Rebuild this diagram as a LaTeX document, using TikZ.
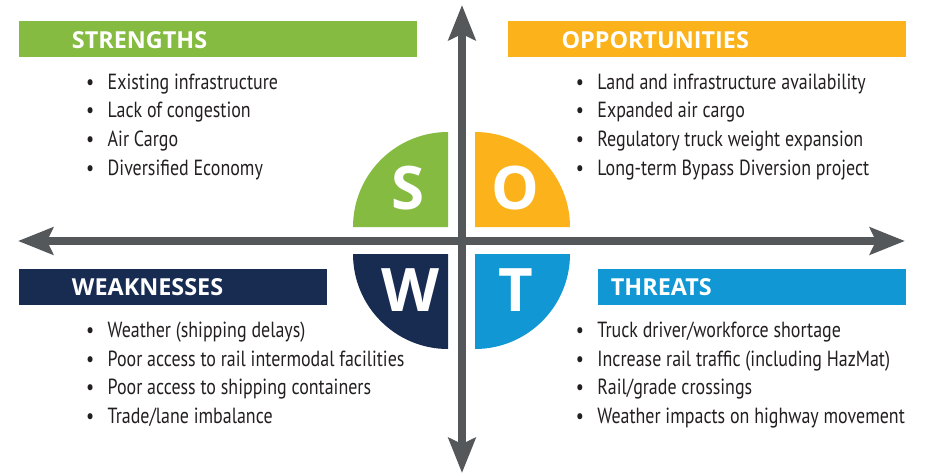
\documentclass[tikz,border=0pt]{standalone}
\usepackage{fontspec}
\setmainfont{PT Sans}[FakeStretch=0.82]
\newfontfamily\headfont{Open Sans}
\usetikzlibrary{arrows.meta}
\definecolor{sgreen}{RGB}{134,187,65}
\definecolor{oorange}{RGB}{251,178,27}
\definecolor{wnavy}{RGB}{24,44,82}
\definecolor{tblue}{RGB}{17,151,212}
\definecolor{axisgray}{RGB}{85,88,90}
\definecolor{ink}{RGB}{35,31,32}
\newcommand{\bul}{\makebox[21.5pt][l]{\textbullet}}
\begin{document}
\begin{tikzpicture}[x=1pt, y=-1pt,
	axis/.style={line width=7.5pt, draw=axisgray, {Stealth[length=35pt, width=27pt, inset=6pt]}-{Stealth[length=35pt, width=27pt, inset=6pt]}},
	bar/.style={anchor=north west, inner sep=0pt, minimum height=35.7pt},
	headtext/.style={anchor=base west, inner sep=0pt, text=white, font=\headfont\bfseries\fontsize{23.4}{28}\selectfont},
	letter/.style={inner sep=0pt, text=white, font=\headfont\bfseries\fontsize{60}{70}\selectfont},
	item/.style={anchor=base west, inner sep=0pt, text=ink, font=\fontsize{21.9}{26}\selectfont}]
	\useasboundingbox (0,0) rectangle (928,474);
	% Axes:
	\coordinate (top) at (462,5);
	\coordinate (bottom) at (462,473);
	\coordinate (left) at (18,241);
	\coordinate (right) at (905,241);
	\draw[axis] (left) -- (right);
	\draw[axis] (top) -- (bottom);
	% Quarter discs and letters:
	\fill[sgreen] (448,227) -- (353,227) arc[start angle=180, end angle=270, radius=95] -- cycle;
	\fill[oorange] (475,227) -- (475,132) arc[start angle=270, end angle=360, radius=95] -- cycle;
	\fill[wnavy] (448,254) -- (353,254) arc[start angle=180, end angle=90, radius=95] -- cycle;
	\fill[tblue] (475,254) -- (570,254) arc[start angle=0, end angle=90, radius=95] -- cycle;
	\node[letter] (S) at (408.3,188.3) {S};
	\node[letter] (O) at (515.8,188.3) {O};
	\node[letter] (W) at (410,290) {W};
	\node[letter] (T) at (515.8,290) {T};
	% Strengths:
	\node[bar, fill=sgreen, minimum width=398.4pt] (sbar) at (18.3,21) {};
	\node[headtext] (shead) at (71.7,48.3) {STRENGTHS};
	\node[item] (s1) at (86,89) {\bul Existing infrastructure};
	\node[item] (s2) at (86,117.7) {\bul Lack of congestion};
	\node[item] (s3) at (86,146.3) {\bul Air Cargo};
	\node[item] (s4) at (86,175) {\bul Diversified Economy};
	% Opportunities:
	\node[bar, fill=oorange, minimum width=398.4pt] (obar) at (507.3,21) {};
	\node[headtext] (ohead) at (561.3,48.3) {OPPORTUNITIES};
	\node[item] (o1) at (575.7,89) {\bul Land and infrastructure availability};
	\node[item] (o2) at (575.7,117.7) {\bul Expanded air cargo};
	\node[item] (o3) at (575.7,146.3) {\bul Regulatory truck weight expansion};
	\node[item] (o4) at (575.7,175) {\bul Long-term Bypass Diversion project};
	% Weaknesses:
	\node[bar, fill=wnavy, minimum width=308.4pt] (wbar) at (18.3,269) {};
	\node[headtext] (whead) at (71.7,295.7) {WEAKNESSES};
	\node[item] (w1) at (86,337.3) {\bul Weather (shipping delays)};
	\node[item] (w2) at (86,366) {\bul Poor access to rail intermodal facilities};
	\node[item] (w3) at (86,394.7) {\bul Poor access to shipping containers};
	\node[item] (w4) at (86,423.3) {\bul Trade/lane imbalance};
	% Threats:
	\node[bar, fill=tblue, minimum width=308.4pt] (tbar) at (597.3,269) {};
	\node[headtext] (thead) at (610.7,295.7) {THREATS};
	\node[item] (t1) at (575.7,337.3) {\bul Truck driver/workforce shortage};
	\node[item] (t2) at (575.7,366) {\bul Increase rail traffic (including HazMat)};
	\node[item] (t3) at (575.7,394.7) {\bul Rail/grade crossings};
	\node[item] (t4) at (575.7,423.3) {\bul Weather impacts on highway movement};
\end{tikzpicture}
\end{document}
